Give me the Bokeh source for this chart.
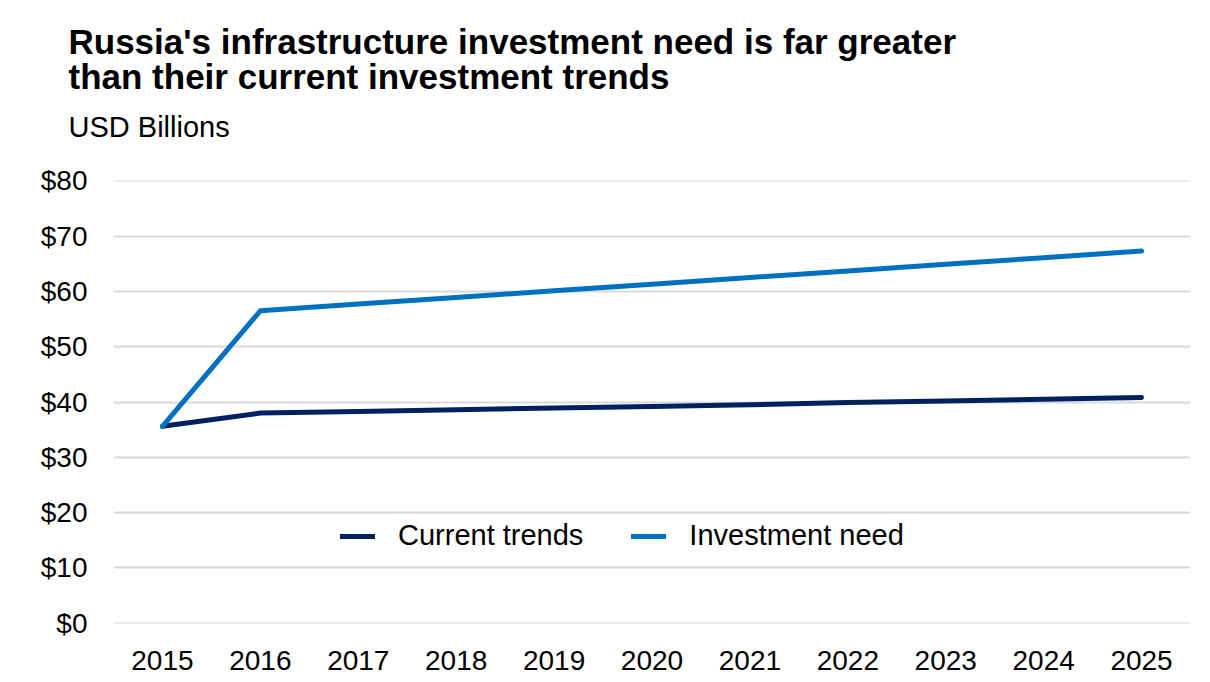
from bokeh.plotting import figure
from bokeh.models import (FactorRange, Range1d, FixedTicker, NumeralTickFormatter,
                          Legend, LegendItem, Title)
from bokeh.embed import file_html
from bokeh.resources import INLINE

years = ["2015", "2016", "2017", "2018", "2019", "2020", "2021", "2022", "2023", "2024", "2025"]
current_trends = [35.6, 38.0, 38.3, 38.6, 38.9, 39.2, 39.5, 39.9, 40.2, 40.5, 40.8]
investment_need = [35.6, 56.5, 57.7, 58.9, 60.1, 61.3, 62.5, 63.7, 64.9, 66.1, 67.3]
y_ticks = [0, 10, 20, 30, 40, 50, 60, 70, 80]

title_lines = ["Russia's infrastructure investment need is far greater",
               "than their current investment trends"]
unit_label = "USD Billions"

FONT = "Liberation Sans"

p = figure(x_range=FactorRange(*years, range_padding=0),
           y_range=Range1d(-0.05, 80.05),
           frame_width=1077, frame_height=443,
           min_border_left=113, min_border_right=20,
           min_border_top=180, min_border_bottom=59,
           output_backend="svg", toolbar_location=None)
p.outline_line_color = None
p.background_fill_color = "white"
p.border_fill_color = "white"

p.xgrid.grid_line_color = None
p.ygrid.grid_line_color = "#d9d9d9"
p.ygrid.grid_line_width = 2
p.yaxis.ticker = FixedTicker(ticks=y_ticks)
p.yaxis.formatter = NumeralTickFormatter(format="$0")

for ax in (p.xaxis[0], p.yaxis[0]):
    ax.axis_line_color = None
    ax.major_tick_line_color = None
    ax.minor_tick_line_color = None
    ax.major_label_text_font = FONT
    ax.major_label_text_font_size = "28px"
    ax.major_label_text_color = "black"
p.yaxis.major_label_standoff = 20
p.xaxis.major_label_standoff = 21

r1 = p.line(years, current_trends, line_color="#002060", line_width=5,
            line_cap="round", line_join="round")
r2 = p.line(years, investment_need, line_color="#0070C0", line_width=5,
            line_cap="round", line_join="round")

legend = Legend(items=[LegendItem(label="Current trends", renderers=[r1]),
                       LegendItem(label="Investment need", renderers=[r2])],
                orientation="horizontal", location=(227, 71),
                border_line_alpha=0, background_fill_alpha=0,
                padding=0, margin=0, glyph_width=35, glyph_height=30,
                label_standoff=23, spacing=48,
                label_text_font=FONT, label_text_font_size="29px",
                label_text_color="black")
p.add_layout(legend)

# spacer panel between the frame and the unit label
p.add_layout(Title(text=" ", standoff=21, text_font=FONT, text_font_size="1px",
                   text_color="white"), "above")
p.add_layout(Title(text=unit_label, align="left", offset=-45, standoff=27,
                   text_font=FONT, text_font_size="29px", text_font_style="normal",
                   text_color="black"), "above")
p.add_layout(Title(text=title_lines[1], align="left", offset=-45, standoff=0,
                   text_font=FONT, text_font_size="35px", text_font_style="bold",
                   text_color="black"), "above")
p.add_layout(Title(text=title_lines[0], align="left", offset=-45, standoff=-12,
                   text_font=FONT, text_font_size="35px", text_font_style="bold",
                   text_color="black"), "above")

open("out.html", "w").write(file_html(p, INLINE))
